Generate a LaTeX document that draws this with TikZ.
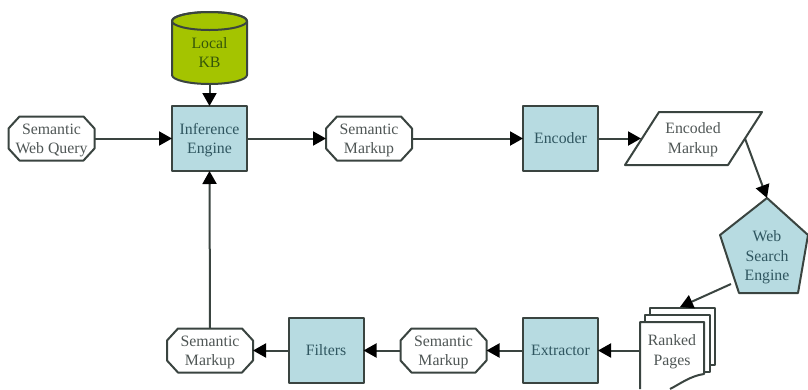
\documentclass[tikz,border=0pt]{standalone}
\usepackage{fontspec}
\setmainfont{Liberation Serif}
\usetikzlibrary{arrows.meta}
\definecolor{boxblue}{HTML}{B7DBE1}
\definecolor{kbgreen}{HTML}{A4C400}
\definecolor{edge}{HTML}{3A4440}
\definecolor{bluetext}{HTML}{2F5660}
\definecolor{greytext}{HTML}{4F5655}
\definecolor{greentext}{HTML}{35560A}
\newcommand\lowered{\rule{0pt}{14pt}}
\tikzset{
  every node/.style={font=\fontsize{15.8}{19.5}\selectfont,align=center,inner sep=0pt,outer sep=0pt},
  outline/.style={draw=edge,line width=2pt,line join=round},
  bluebox/.style={outline,fill=boxblue,text=bluetext,rectangle,minimum width=75pt,minimum height=65pt},
  octabox/.style={rectangle,text=greytext,minimum width=86pt,minimum height=44pt},
  ghost/.style={rectangle,text=greytext},
  flow/.style={draw=edge,line width=2pt,-{Triangle[length=13pt,width=14pt,fill=black,color=black]}},
}
% octagon outline with a named label node: name, centre x, centre y, text
\newcommand\octagonnode[4]{%
  \draw[outline,fill=white]
    (#2-43,#3-10) -- (#2-32,#3-22) -- (#2+32,#3-22) -- (#2+43,#3-10) --
    (#2+43,#3+10) -- (#2+32,#3+22) -- (#2-32,#3+22) -- (#2-43,#3+10) -- cycle;
  \node[octabox] (#1) at (#2,#3) {\lowered #4};
}
\begin{document}
\begin{tikzpicture}[x=1pt,y=-1pt]
\useasboundingbox (0,0) rectangle (808,389);

% local knowledge base
\draw[outline,fill=kbgreen] (172,21) -- (172,75) arc[start angle=180,end angle=360,x radius=37.5,y radius=-9] -- (247,21) arc[start angle=0,end angle=360,x radius=37.5,y radius=-9];
\draw[outline] (172,21) arc[start angle=180,end angle=360,x radius=37.5,y radius=9];
\node[rectangle,minimum width=75pt,minimum height=72pt] (kb) at (209.5,48) {};
\node[rectangle,text=greentext] (kbtext) at (209.5,51) {\lowered Local\\KB};

% rectangular process boxes
\node[bluebox] (inf) at (209.5,138.5) {\lowered Inference\\Engine};
\node[bluebox] (enc) at (560.5,138.5) {Encoder};
\node[bluebox] (ext) at (560.5,350.5) {Extractor};
\node[bluebox] (fil) at (326,350.5) {Filters};

% octagons
\octagonnode{query}{51.5}{138.5}{Semantic\\Web Query}
\octagonnode{sma}{369}{138.5}{Semantic\\Markup}
\octagonnode{smb}{443.5}{350.5}{Semantic\\Markup}
\octagonnode{smc}{210}{350.5}{Semantic\\Markup}

% parallelogram
\draw[outline,fill=white] (659,112) -- (762,112) -- (728,165) -- (625,165) -- cycle;
\node[ghost] (em) at (693,138) {\lowered Encoded\\Markup};
\coordinate (emin) at (641,138.5);
\coordinate (emout) at (745,138.5);

% pentagon
\draw[outline,fill=boxblue] (767,198) -- (808,235) -- (798,293) -- (739,293) -- (720,235) -- cycle;
\node[rectangle,text=bluetext] (wse) at (767,256) {\lowered Web\\Search\\Engine};
\coordinate (wsetop) at (767,198);
\coordinate (wseout) at (731,284);

% ranked pages
\draw[outline,fill=white] (650,308) -- (715,308) -- (715,365) -- (650,365) -- cycle;
\draw[outline,fill=white] (645,315) -- (710,315) -- (710,372) -- (645,372) -- cycle;
\path[fill=white] (640,322) -- (704,322) -- (704,374) .. controls (690,376) and (680,384) .. (670,389) -- (640,389) -- cycle;
\draw[outline] (640,389) -- (640,322) -- (704,322) -- (704,374) .. controls (690,376) and (680,384) .. (670,389);
\node[ghost] (pages) at (672,350) {\lowered Ranked\\Pages};
\coordinate (pagesin) at (680,307);
\coordinate (pagesout) at (640,350.5);

% connectors
\draw[flow] (kb.south) -- (inf.north);
\draw[flow] (query.east) -- (inf.west);
\draw[flow] (inf.east) -- (sma.west);
\draw[flow] (sma.east) -- (enc.west);
\draw[flow] (enc.east) -- (emin);
\draw[flow] (emout) -- (wsetop);
\draw[flow] (wseout) -- (pagesin);
\draw[flow] (pagesout) -- (ext.east);
\draw[flow] (ext.west) -- (smb.east);
\draw[flow] (smb.west) -- (fil.east);
\draw[flow] (fil.west) -- (smc.east);
\draw[flow] (smc.north) -- (inf.south);
\end{tikzpicture}
\end{document}
